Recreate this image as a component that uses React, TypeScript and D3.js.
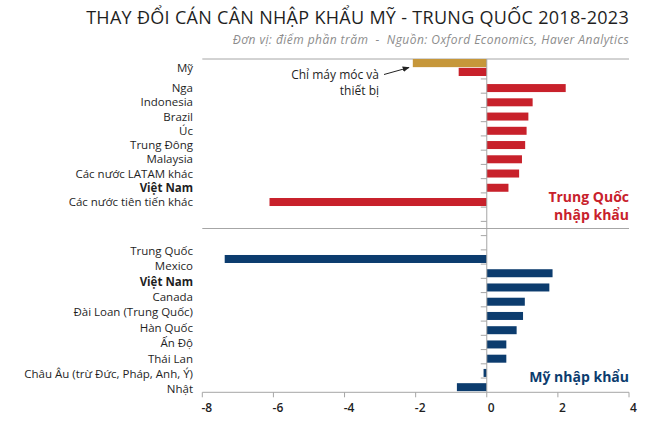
import * as d3 from "d3";

const chinaImportCountries = [
  "Mỹ",
  "Nga",
  "Indonesia",
  "Brazil",
  "Úc",
  "Trung Đông",
  "Malaysia",
  "Các nước LATAM khác",
  "Việt Nam",
  "Các nước tiên tiến khác",
];
const chinaImportValues = [-0.79, 2.22, 1.29, 1.17, 1.12, 1.08, 0.99, 0.91, 0.61, -6.11];
const usMachineryValue = -2.08; // "Chỉ máy móc và thiết bị"

const usImportCountries = [
  "Trung Quốc",
  "Mexico",
  "Việt Nam",
  "Canada",
  "Đài Loan (Trung Quốc)",
  "Hàn Quốc",
  "Ấn Độ",
  "Thái Lan",
  "Châu Âu (trừ Đức, Pháp, Anh, Ý)",
  "Nhật",
];
const usImportValues = [-7.37, 1.85, 1.76, 1.07, 1.02, 0.84, 0.55, 0.55, -0.09, -0.84];

const xTicks = [-8, -6, -4, -2, 0, 2, 4];
const boldCountries = ["Việt Nam"];

const W = 669;
const H = 426;
const font = "'Open Sans', sans-serif";
const RED = "#c8212b";
const GOLD = "#c6973a";
const NAVY = "#0c3c6e";
const TEXT = "#1f1f1f";
const LINE = "#a6a6a6";

// rows: top section, two blanks around the separator, bottom section
const rows = [
  ...chinaImportCountries.map((c) => "cn:" + c),
  "blank1",
  "sep",
  "blank2",
  ...usImportCountries.map((c) => "us:" + c),
];

const App = () => {
  const plotTop = 59;
  const plotBottom = 392.3;
  const x = d3.scaleLinear().domain([-8, 4]).range([202.3, 629]);
  const y = d3.scaleBand<string>().domain(rows).range([64.7, plotBottom]);
  const step = y.step();
  const barH = 8;
  const barY = (key: string) => (y(key) as number) + (step - barH) / 2 + 2;

  // the first row holds two bars: machinery only and total
  const usRow = d3
    .scaleBand<string>()
    .domain(["machinery", "total"])
    .range([plotTop, plotTop + 2 * barH + 1])
    .paddingInner(0.08);

  const bottomLabelY = d3
    .scalePoint<string>()
    .domain(usImportCountries)
    .range([250.7, 389.3]);

  const x0 = x(0);
  const labelX = 193;
  const sepY = (y("sep") as number) + step / 2;

  const topBars = chinaImportCountries.map((c, i) => {
    const v = chinaImportValues[i];
    const yy = i === 0 ? (usRow("total") as number) : barY("cn:" + c);
    const h = i === 0 ? usRow.bandwidth() : barH;
    return (
      <rect
        key={"cn" + c}
        x={Math.min(x(v), x0)}
        y={yy}
        width={Math.abs(x(v) - x0)}
        height={h}
        fill={RED}
      />
    );
  });

  const bottomBars = usImportCountries.map((c, i) => {
    const v = usImportValues[i];
    return (
      <rect
        key={"us" + c}
        x={Math.min(x(v), x0)}
        y={barY("us:" + c)}
        width={Math.abs(x(v) - x0)}
        height={barH}
        fill={NAVY}
      />
    );
  });

  return (
    <svg
      width={W}
      height={H}
      style={{ position: "absolute", left: 0, top: 0, background: "#fff" }}
      fontFamily={font}
    >
      <defs>
        <marker
          id="arrow"
          viewBox="0 0 10 10"
          refX="9"
          refY="5"
          markerWidth="7"
          markerHeight="7"
          orient="auto"
        >
          <path d="M0,1 L10,5 L0,9 Z" fill="#222" />
        </marker>
      </defs>

      <text
        x={629}
        y={24}
        textAnchor="end"
        fontSize={18}
        letterSpacing={0.3}
        fill={TEXT}
        fontWeight={500}
      >
        THAY ĐỔI CÁN CÂN NHẬP KHẨU MỸ - TRUNG QUỐC 2018-2023
      </text>
      <text
        x={629}
        y={44}
        textAnchor="end"
        fontSize={12}
        letterSpacing={0.45}
        fill="#8c8c8c"
        fontStyle="italic"
        style={{ whiteSpace: "pre" }}
      >
        {"Đơn vị: điểm phần trăm  -  Nguồn: Oxford Economics, Haver Analytics"}
      </text>

      {/* horizontal frame lines */}
      <line x1={x(-8)} x2={x(4)} y1={plotTop} y2={plotTop} stroke={LINE} strokeWidth={1} />
      <line x1={x(-8)} x2={x(4)} y1={sepY} y2={sepY} stroke={LINE} strokeWidth={1} />

      {/* category ticks on the zero line */}
      {rows.map((r) => (
        <line
          key={"t" + r}
          x1={x0 - 6}
          x2={x0}
          y1={y(r) as number}
          y2={y(r) as number}
          stroke={LINE}
          strokeWidth={1}
        />
      ))}

      {/* machinery only bar */}
      <rect
        x={x(usMachineryValue)}
        y={usRow("machinery") as number}
        width={x0 - x(usMachineryValue)}
        height={usRow.bandwidth()}
        fill={GOLD}
      />
      {topBars}
      {bottomBars}

      <line x1={x0} x2={x0} y1={plotTop} y2={plotBottom} stroke={LINE} strokeWidth={1} />

      {/* x axis */}
      <line x1={x(-8)} x2={x(4)} y1={plotBottom} y2={plotBottom} stroke={LINE} strokeWidth={1} />
      {xTicks.map((t) => (
        <g key={"x" + t}>
          <line x1={x(t)} x2={x(t)} y1={plotBottom} y2={plotBottom + 5} stroke={LINE} />
          <text
            x={x(t) + 4.5}
            y={plotBottom + 20}
            textAnchor="middle"
            fontSize={12}
            fontWeight={600}
            fill={TEXT}
          >
            {t}
          </text>
        </g>
      ))}

      {/* category labels */}
      {chinaImportCountries.map((c, i) => {
        const cy =
          i === 0
            ? ((usRow("machinery") as number) + (usRow("total") as number) + usRow.bandwidth()) / 2
            : barY("cn:" + c) + barH / 2;
        return (
          <text
            key={"lc" + c}
            x={labelX}
            y={cy}
            dy="0.35em"
            textAnchor="end"
            fontSize={11.5}
            fill={TEXT}
            fontWeight={boldCountries.includes(c) ? 700 : 400}
          >
            {c}
          </text>
        );
      })}
      {usImportCountries.map((c) => (
        <text
          key={"lu" + c}
          x={labelX}
          y={bottomLabelY(c) as number}
          dy="0.35em"
          textAnchor="end"
          fontSize={11.5}
          fill={TEXT}
          fontWeight={boldCountries.includes(c) ? 700 : 400}
        >
          {c}
        </text>
      ))}

      {/* annotation */}
      <text x={379} y={75} dy="0.35em" textAnchor="end" fontSize={12} fill={TEXT}>
        Chỉ máy móc và
      </text>
      <text x={379} y={91} dy="0.35em" textAnchor="end" fontSize={12} fill={TEXT}>
        thiết bị
      </text>
      <line
        x1={384}
        y1={74.5}
        x2={409}
        y2={67.5}
        stroke="#222"
        strokeWidth={1}
        markerEnd="url(#arrow)"
      />

      {/* section labels */}
      <text x={629} y={197} dy="0.35em" textAnchor="end" fontSize={14} fontWeight={700} fill={RED}>
        Trung Quốc
      </text>
      <text x={629} y={215} dy="0.35em" textAnchor="end" fontSize={14} fontWeight={700} fill={RED}>
        nhập khẩu
      </text>
      <text x={629} y={377} dy="0.35em" textAnchor="end" fontSize={14} fontWeight={700} fill={NAVY}>
        Mỹ nhập khẩu
      </text>
    </svg>
  );
};

export default App;
